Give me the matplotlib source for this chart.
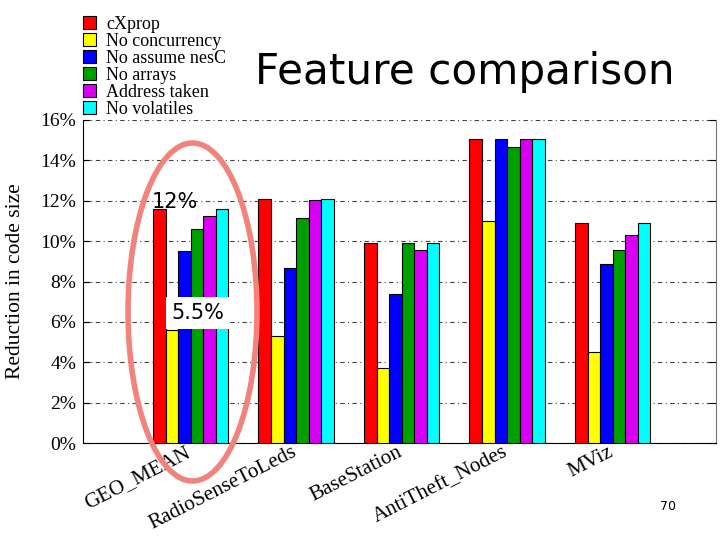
import matplotlib
matplotlib.use("Agg")
import matplotlib.pyplot as plt
from matplotlib.patches import Ellipse
import numpy as np

benchmarks = ["GEO_MEAN", "RadioSenseToLeds", "BaseStation", "AntiTheft_Nodes", "MViz"]
series_names = ["cXprop", "No concurrency", "No assume nesC", "No arrays", "Address taken", "No volatiles"]
colors = ["#FF0000", "#FFFF00", "#0000FF", "#009F00", "#D800F2", "#00FFFF"]

cxprop         = [11.6, 12.1, 9.93, 15.04, 10.88]
no_concurrency = [5.6, 5.3, 3.72, 10.98, 4.51]
no_assume      = [9.5, 8.65, 7.36, 15.04, 8.87]
no_arrays      = [10.6, 11.15, 9.93, 14.66, 9.54]
address_taken  = [11.25, 12.02, 9.54, 15.04, 10.28]
no_volatiles   = [11.6, 12.08, 9.93, 15.04, 10.88]
series = [cxprop, no_concurrency, no_assume, no_arrays, address_taken, no_volatiles]

yticks = [0, 2, 4, 6, 8, 10, 12, 14, 16]
ytick_labels = [f"{t}%" for t in yticks]

serif = ["Liberation Serif", "DejaVu Serif"]
sans = ["DejaVu Sans"]

fig = plt.figure(figsize=(7.2, 5.4), dpi=100)
ax = fig.add_axes([83/720, 1-443/540, (716-83)/720, (443-120)/540])

x = np.arange(len(benchmarks))
w = 0.119
for i, (vals, c, name) in enumerate(zip(series, colors, series_names)):
    ax.bar(x + (i - 2.5) * w, vals, width=w, color=c, edgecolor="black",
           linewidth=0.8, label=name, zorder=3)

ax.set_xlim(-1.02, 4.98)
ax.set_ylim(0, 16)
ax.set_yticks(yticks)
ax.set_yticklabels(ytick_labels, fontfamily=serif, fontsize=14)
ax.tick_params(axis="y", direction="in", right=True, length=5, pad=5)
ax.set_xticks([])
ax.yaxis.grid(True, linestyle=(0, (4, 3, 1, 3)), color="#444444", linewidth=0.8, zorder=0)
ax.spines["top"].set_visible(False)
ax.spines["right"].set_color("#777777")
ax.set_ylabel("Reduction in code size", fontfamily=serif, fontsize=15.5, labelpad=11)

for xi, lab in zip(x, benchmarks):
    ax.text(xi - 0.05, 0.0, lab, rotation=27, ha="right", va="top",
            rotation_mode="anchor", fontfamily=serif, fontsize=15.2)

fig.legend(loc="upper left", bbox_to_anchor=(70/720, 1-3/540), frameon=False,
           prop={"family": serif, "size": 13}, handlelength=0.75, handleheight=0.75,
           labelspacing=0.0, handletextpad=0.55, borderpad=0.2)

fig.text(255/720, 1-84/540, "Feature comparison", fontfamily=sans, fontsize=30.3,
         ha="left", va="baseline")

fig.text(152/720, 1-208/540, "12%", fontfamily=sans, fontsize=15, ha="left", va="baseline", zorder=10)
fig.text(198/720, 1-313/540, "5.5%", fontfamily=sans, fontsize=15, ha="center", va="center",
         zorder=10, bbox=dict(facecolor="white", edgecolor="none", pad=4))

ell = Ellipse((192.5/720, 1-312/540), 129/720, 338/540, transform=fig.transFigure,
              fill=False, edgecolor="#F2837C", linewidth=4, zorder=20)
fig.patches.append(ell)

fig.text(668/720, 1-506/540, "70", fontfamily=sans, fontsize=9, ha="center", va="center")

fig.savefig("out.png", dpi=100)
